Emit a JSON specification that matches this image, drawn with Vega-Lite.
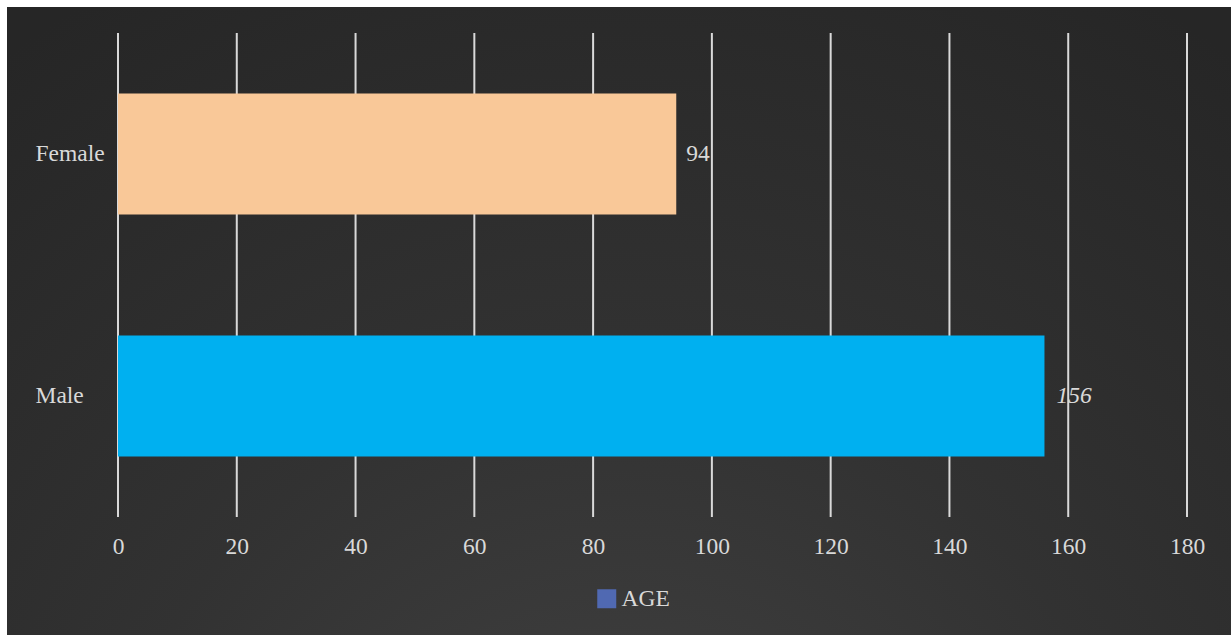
{
  "$schema": "https://vega.github.io/schema/vega-lite/v6.json",
  "autosize": {"type": "fit", "contains": "padding"},
  "width": 1231,
  "height": 637,
  "padding": {"left": 7, "top": 7, "right": 0, "bottom": 2},
  "background": "#ffffff",
  "config": {
    "font": "Liberation Serif",
    "view": {
      "stroke": null,
      "fill": {
        "gradient": "radial",
        "x1": 0.5, "y1": 0.97, "r1": 0,
        "x2": 0.5, "y2": 0.97, "r2": 0.85,
        "stops": [
          {"offset": 0, "color": "#434343"},
          {"offset": 0.5, "color": "#323232"},
          {"offset": 1, "color": "#262626"}
        ]
      }
    }
  },
  "datasets": {
    "ages": [
      {"gender": "Female", "age": 94, "series": "AGE"},
      {"gender": "Male", "age": 156, "series": "AGE"}
    ],
    "gridlines": [
      {"tick": 0}, {"tick": 20}, {"tick": 40}, {"tick": 60}, {"tick": 80},
      {"tick": 100}, {"tick": 120}, {"tick": 140}, {"tick": 160}, {"tick": 180}
    ]
  },
  "layer": [
    {
      "data": {"name": "gridlines"},
      "mark": {"type": "rule", "color": "#d9d9d9", "strokeWidth": 2},
      "encoding": {
        "x": {"field": "tick", "type": "quantitative", "title": null},
        "y": {"datum": "Female", "type": "nominal", "bandPosition": 0, "title": null},
        "y2": {"datum": "Male", "bandPosition": 1}
      }
    },
    {
      "data": {"name": "ages"},
      "mark": {"type": "bar", "height": {"band": 0.5}},
      "encoding": {
        "x": {
          "field": "age",
          "type": "quantitative",
          "scale": {"domain": [0, 180], "range": [111, 1180], "nice": false, "zero": true},
          "axis": {
            "orient": "bottom",
            "offset": -100,
            "title": null,
            "values": [0, 20, 40, 60, 80, 100, 120, 140, 160, 180],
            "domain": false,
            "ticks": false,
            "tickSize": 0,
            "grid": false,
            "labelPadding": 18,
            "labelBaseline": "alphabetic",
            "labelFlush": false,
            "labelFontSize": 23.5,
            "labelColor": "#d9d9d9"
          }
        },
        "y": {
          "field": "gender",
          "type": "nominal",
          "scale": {"domain": ["Female", "Male"], "range": [26, 510], "paddingInner": 0, "paddingOuter": 0},
          "axis": {
            "orient": "left",
            "offset": -28,
            "title": null,
            "domain": false,
            "ticks": false,
            "tickSize": 0,
            "grid": false,
            "labelPadding": 0,
            "labelAlign": "left",
            "labelFontSize": 23.5,
            "labelColor": "#d9d9d9"
          }
        },
        "color": {
          "field": "gender",
          "type": "nominal",
          "scale": {"domain": ["Female", "Male"], "range": ["#f9c898", "#00b0f0"]},
          "legend": null
        },
        "opacity": {
          "field": "series",
          "type": "nominal",
          "scale": {"range": [1]},
          "legend": {
            "orient": "none",
            "legendX": 588,
            "legendY": 580,
            "title": null,
            "padding": 0,
            "symbolType": "square",
            "symbolSize": 361,
            "symbolStrokeWidth": 0,
            "symbolFillColor": "#5069b2",
            "labelFontSize": 23.5,
            "labelColor": "#d9d9d9",
            "labelOffset": 3,
            "encode": {
              "symbols": {
                "update": {
                  "fill": {"value": "#5069b2"},
                  "opacity": {"value": 1}
                }
              }
            }
          }
        }
      }
    },
    {
      "data": {"name": "ages"},
      "transform": [{"filter": "datum.gender === 'Female'"}],
      "mark": {"type": "text", "align": "left", "baseline": "middle", "dx": 10, "fontSize": 23.5, "color": "#d9d9d9"},
      "encoding": {
        "x": {"field": "age", "type": "quantitative"},
        "y": {"field": "gender", "type": "nominal"},
        "text": {"field": "age", "type": "quantitative"}
      }
    },
    {
      "data": {"name": "ages"},
      "transform": [{"filter": "datum.gender === 'Male'"}],
      "mark": {"type": "text", "align": "left", "baseline": "middle", "dx": 12, "fontSize": 23.5, "fontStyle": "italic", "color": "#d9d9d9"},
      "encoding": {
        "x": {"field": "age", "type": "quantitative"},
        "y": {"field": "gender", "type": "nominal"},
        "text": {"field": "age", "type": "quantitative"}
      }
    }
  ]
}
